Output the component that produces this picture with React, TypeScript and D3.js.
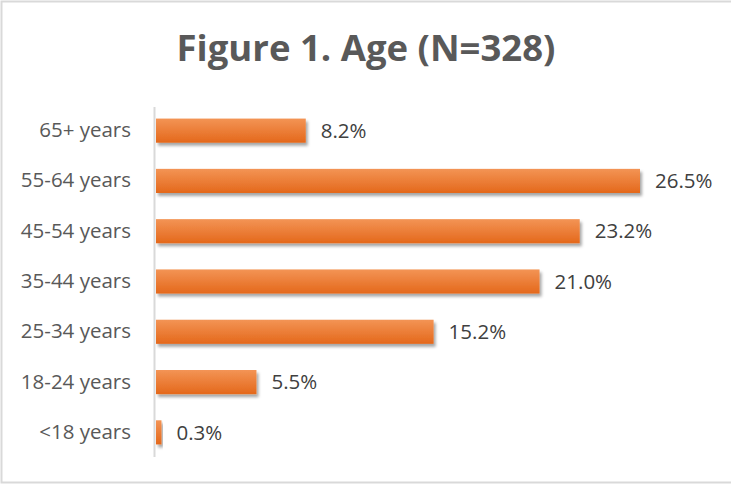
import React, { useEffect, useRef } from "react";
import * as d3 from "d3";

const categories = [
  "65+ years",
  "55-64 years",
  "45-54 years",
  "35-44 years",
  "25-34 years",
  "18-24 years",
  "<18 years",
];
const values = [8.2, 26.5, 23.2, 21.0, 15.2, 5.5, 0.3];
const title = "Figure 1. Age (N=328)";

const App = () => {
  const chartRef = useRef<SVGSVGElement>(null);

  useEffect(() => {
    const totalWidth = 731;
    const totalHeight = 484;
    const margin = { top: 106.5, right: 91, bottom: 27.5, left: 156 };

    const svg = d3
      .select(chartRef.current)
      .attr("width", totalWidth)
      .attr("height", totalHeight)
      .style("position", "absolute")
      .style("left", 0)
      .style("top", 0);
    svg.selectAll("*").remove();

    const data = categories.map((c, i) => ({ cat: c, value: values[i] }));

    const y = d3
      .scaleBand()
      .domain(categories)
      .range([margin.top, totalHeight - margin.bottom])
      .paddingInner(0.52)
      .paddingOuter(0.24);

    const x = d3
      .scaleLinear()
      .domain([0, 26.5])
      .range([margin.left, 640]);

    const defs = svg.append("defs");
    const grad = defs
      .append("linearGradient")
      .attr("id", "barGrad")
      .attr("x1", 0)
      .attr("y1", 0)
      .attr("x2", 0)
      .attr("y2", 1);
    grad.append("stop").attr("offset", "0%").attr("stop-color", "#f39455");
    grad.append("stop").attr("offset", "100%").attr("stop-color", "#e4681b");

    const shadow = defs
      .append("filter")
      .attr("id", "shadow")
      .attr("x", "-5%")
      .attr("y", "-30%")
      .attr("width", "115%")
      .attr("height", "180%");
    shadow
      .append("feDropShadow")
      .attr("dx", 2)
      .attr("dy", 3)
      .attr("stdDeviation", 1.5)
      .attr("flood-color", "#000")
      .attr("flood-opacity", 0.35);

    // outer frame
    svg
      .append("rect")
      .attr("x", 1.5)
      .attr("y", 1.5)
      .attr("width", 732)
      .attr("height", 481)
      .attr("fill", "#fff")
      .attr("stroke", "#d9d9d9")
      .attr("stroke-width", 2);

    svg
      .append("text")
      .attr("x", 366)
      .attr("y", 61)
      .attr("text-anchor", "middle")
      .attr("font-family", "'Open Sans', sans-serif")
      .attr("font-weight", "bold")
      .attr("font-size", 36.5)
      .attr("fill", "#595959")
      .text(title);

    // bars
    svg
      .append("g")
      .selectAll("rect")
      .data(data)
      .join("rect")
      .attr("x", x(0))
      .attr("y", (d) => y(d.cat)!)
      .attr("width", (d) => x(d.value) - x(0))
      .attr("height", y.bandwidth())
      .attr("fill", "url(#barGrad)")
      .attr("filter", "url(#shadow)");

    // value labels
    svg
      .append("g")
      .selectAll("text")
      .data(data)
      .join("text")
      .attr("x", (d) => x(d.value) + 15)
      .attr("y", (d) => y(d.cat)! + y.bandwidth() / 2)
      .attr("dy", "0.35em")
      .attr("font-family", "'Open Sans', sans-serif")
      .attr("font-size", 20.5)
      .attr("fill", "#404040")
      .text((d) => d.value.toFixed(1) + "%");

    // y axis
    const yAxis = d3.axisLeft(y).tickSize(0).tickPadding(23);
    svg
      .append("g")
      .attr("transform", `translate(${margin.left - 2},0)`)
      .call(yAxis)
      .call((g) =>
        g
          .select(".domain")
          .attr("stroke", "#d9d9d9")
          .attr("stroke-width", 2)
      )
      .call((g) =>
        g
          .selectAll(".tick text")
          .attr("font-family", "'Open Sans', sans-serif")
          .attr("font-size", 20.5)
          .attr("fill", "#595959")
      );
  }, []);

  return (
    <div>
      <svg ref={chartRef}></svg>
    </div>
  );
};

export default App;
